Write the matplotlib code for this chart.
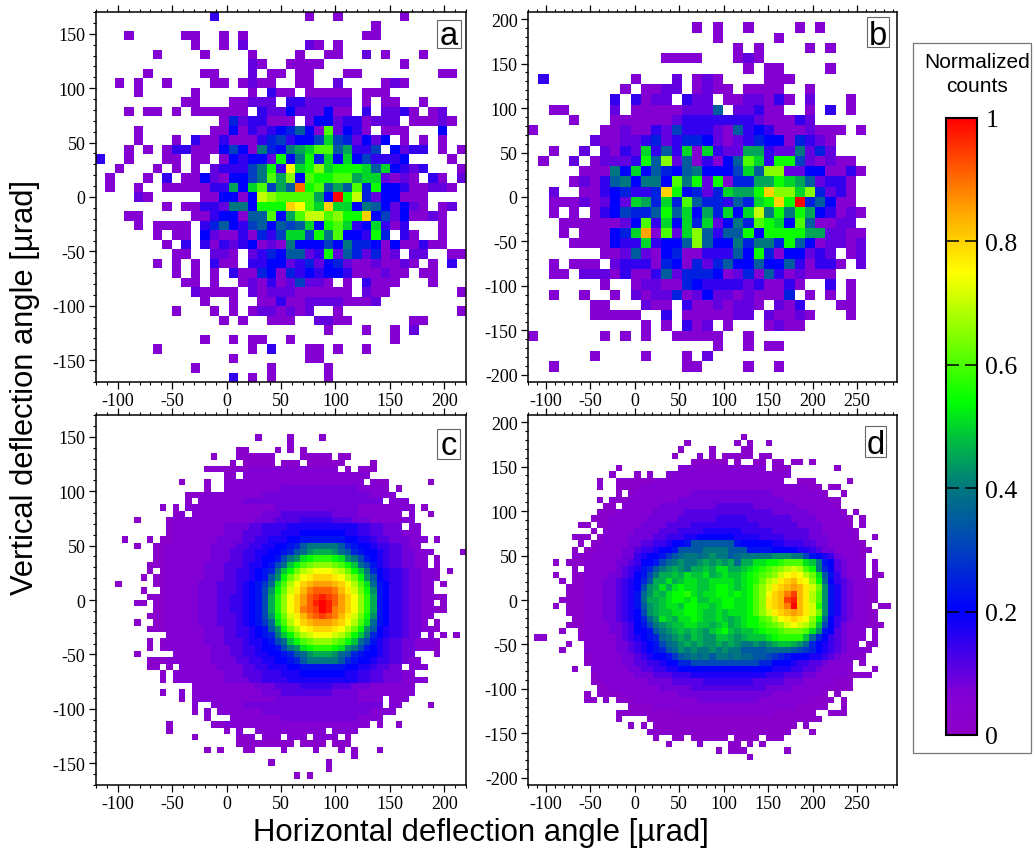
import numpy as np
import matplotlib
matplotlib.use("Agg")
import matplotlib.pyplot as plt
from matplotlib.colors import LinearSegmentedColormap
from matplotlib.cm import ScalarMappable
from matplotlib.colors import Normalize
from matplotlib.patches import Rectangle
from matplotlib.ticker import MultipleLocator

plt.rcParams['font.family'] = ['Liberation Serif', 'DejaVu Serif']
plt.rcParams['axes.unicode_minus'] = False

# Cell readings. Token "s:chars" = values from column s, "a-b:c" = run, base 36 codes.
a_rows = [
"12:3 22:1 25:1 32:1","29:1","3:1 9:11 13:1 15:1 28:11","10:1 13:1 15:2 22:21 25:1",
"6:1 11:1 16:1 21:1 24:11 28:2 30:1 34:1","16:21 20:1111 32:1",
"5:1 11:11 16:2 18:11 21:11 26:11 36:11","2:1 4:1 7:1 12:11 15:1211 21:11 25:2 30:121",
"4:1 10:1 16:1 18:3 19:11 22:11111 28:111",
"9:11 14:11 16:222 20:33 22:22222 28:1 30:11 34:1",
"3:1 5:11 8:1 10:111111 17:3 18:22 20:4 21:222 24:4 25:11 28:3 30:223 33:1 35:12",
"13:1 14:5 15:2 16:33 18:111 22:2 23:44 25:233 28:1 29:222 33:11 35:121",
"4:1 12:11 14:4 15:1 16:3 17:2 18:34 20:57 22:4 23:1 24:c 25:2 26:43 28:1 30:11 32:1 36:4",
"4:1 8:1 10:3 11:11 13:3 14:1 15:1 16:1 17:3 18:56 20:3 21:44 23:6 24:a 25:65 27:2 28:4 29:2 30:4 32:1 34:1 36:1",
"3:1 5:1 7:133 10:111 13:464 16:1 17:8 18:54 20:89a 23:cc 25:79 27:33 29:6 31:42 33:33 36:1 38:1",
"0:3 3:1 7:11 10:11 13:1 14:43 16:44 18:2 19:b 20:4 21:8 22:b 23:5 24:a 25:4 26:a 27:4 28:6 29:333 32:4 37:1",
"2:1 6:1 8:1 10:1 12:2 13:333 16:68 18:b 19:3 20:f 21:a 22:b 23:d 24:a 25:bbb 28:a 29:7 30:a 31:4 32:32 34:3 38:1",
"1:1 5:1 7:3 9:11 11:4 12:21 14:44 16:68 18:c 19:9 20:d 21:4 22:c 23:bb 25:cc 27:9 28:aa 30:2 31:1 32:2 33:1 35:3 36:1 38:2",
"1:1 4:1 7:11111 12:33 14:9 15:4 16:a 17:c 18:6 19:9 20:7 21:i 22:b 23:c 24:7 25:9 26:7 27:c 28:5 29:b 30:44 32:3 33:11 35:22 37:1",
"4:21 11:11 13:44 15:1 16:4 17:e 18:d 19:cccc 23:9 24:4 25:k 26:b 27:e 28:5 29:2 30:44 32:111",
"7:1 9:11 11:33 13:2 14:88 16:4 17:bbb 20:g 21:f 22:c 23:a 24:g 25:aa 27:4 28:87 30:4 31:2 32:4 33:21 36:12",
"3:11 10:11 12:3 13:44 15:1 16:77 18:c 19:4 20:9 21:c 22:ee 24:c 25:d 26:bb 28:g 29:4 30:6 31:2 32:4 33:11 35:21",
"4:1 6:1111 11:357 14:4 15:3 16:67 18:4 19:767 22:a 23:4 24:bc 26:a 27:34 29:a 30:3 31:1 32:3 36:1",
"6:1 8:11 11:4 12:211 15:3 16:1 17:53 19:6 20:aa 22:6 23:b 24:8 25:c 26:44 28:3 29:b 30:5 32:3 33:1 36:1",
"7:1 9:3 11:3 12:1 13:323 16:4 17:121 20:8 21:444 24:6 25:4 26:8 27:55 29:4 30:1 31:4 32:11 34:3 35:11",
"8:11 12:221 16:2 17:3 18:54 20:77 22:2 23:3 24:b 25:2 26:75 28:2 29:5 30:12 33:22 37:11",
"6:1 8:1 10:1 12:311 16:33 18:44 20:23 22:5 23:2 24:45 26:2 27:11 29:2 30:11 32:21 35:1 37:3",
"8:1 10:1 12:1 14:311 17:54 19:1 20:53 22:4 23:3 24:44 26:3 27:111 30:2 31:11 34:11",
"9:11 12:1 15:121 18:31 20:26 22:22 24:1 26:1 28:3 29:111 35:1",
"10:21111 16:21 18:222 21:111111 28:211 38:1",
"11:1 14:1 17:11 19:3 20:11 22:2222 26:111 29:2",
"8:1 12:1 14:1 16:122 19:1212 25:1 38:1",
"13:1 15:1 18:111 23:22 25:11 33:11",
"24:1 28:1 31:1 33:2",
"11:1 14:1 16:11 20:1 31:1",
"6:1 16:1 18:3 22:11 25:1 28:1",
"14:1 22:11",
"10:1 18:1 24:1",
"14:3 16:1 18:1 24:1",
]

b_rows = [
"","16:1 18:1 21:1 26:1 28:1","18:1 24:1","20:1 22:1 27:1 29:1","13:1111 20:121",
"21:1 23:11 29:1","1:3 10:1 14:2 16:12 18:1 23:111",
"9:1 11:112 14:2 16:12 18:11 21:11 23:11 27:1",
"8:3 10:3 11:1 12:22 15:3 16:22 19:11 21:22 23:1 24:3 25:1 27:2 31:1",
"2:11 8:2 10:111 13:1 14:12 16:22 18:7 20:22 22:3 23:11 27:1 29:3 31:1",
"4:1 8:111111 14:2 15:33333 20:33 22:211 25:1 26:3 27:2",
"0:1 7:11 9:2 10:11 12:3 13:2 14:6 15:333 18:2 19:1 20:7 21:3 22:4 23:3 24:111 27:2 28:111 32:1",
"6:2 7:11 9:22 11:3 12:5 13:2 14:3 15:554 18:2 19:12 21:3 22:5 23:44 25:1 26:5 27:3 28:2 29:1",
"2:1 5:2 7:21 9:3 10:2 11:a 12:3 13:7 14:3 15:a 16:1 17:a 18:3 19:2 20:2 21:99 23:3 24:22 26:8 27:2 28:5 29:2",
"1:1 4:2 6:1 7:222 10:3 11:b 12:7 13:d 14:2 15:7 16:1 17:3 18:1 19:4 20:7 21:c 22:a 23:3 24:bb 26:6 27:2 28:1 29:2 30:11",
"5:1 6:11 8:8 9:4 10:a 11:4 12:7 13:5 14:4 15:7 16:8 17:444 20:6 21:a 22:7 23:dd 25:22 27:44 29:11 31:3 32:1",
"4:1 5:2 6:1 7:3 8:78 10:4 11:88 13:4 14:c 15:8 16:b 17:2 18:b 19:1 20:55 22:99 24:b 25:a 26:9 27:7 28:2 29:33 31:1",
"2:2 5:11 7:3 8:45 10:33 12:5 13:g 14:b 15:45 17:2 18:5 19:a 20:99 22:b 23:g 24:dd 26:a 27:d 28:5 29:2 30:3 31:1",
"2:111 5:2 6:1 7:2 8:4 9:2 10:a 11:9 12:5 13:a 14:5 15:c 16:7 17:55 19:3 20:7 21:5 22:a 23:b 24:g 25:b 26:k 27:5 28:7 29:4 30:11",
"2:1 4:1 6:1 7:3 8:4 9:6 10:55 12:7 13:b 14:7 15:a 16:4 17:9 18:5 19:a 20:4 21:a 22:e 23:8 24:b 25:8 26:b 27:9 28:4 29:3 30:1 31:2 32:1",
"3:111 6:111 9:2 10:4 11:c 12:3 13:a 14:4 15:a 16:5 17:a 18:2 19:4 20:8 21:5 22:c 23:b 24:a 25:4 26:c 27:7 28:112 31:2",
"3:1 5:1 6:11 8:45 10:a 11:h 12:1 13:c 14:2 15:a 16:d 17:7 18:3 19:77 21:b 22:4 23:bbb 26:b 27:9 28:9 29:22 31:11",
"4:1111 8:4 9:33 11:a 12:3 13:44 15:7 16:d 17:7 18:44 20:8 21:5 22:88 24:5 25:b 26:7 27:4 28:1 29:22 31:1 32:2",
"7:11 9:2 10:7 11:2 12:1 13:45 15:11 17:333 20:7 21:4 22:b 23:5 24:1 25:44 27:2 28:3 29:2 31:12",
"2:1 4:111 8:2 9:333 12:1 13:54 15:1 16:5 17:2 18:5 19:7 20:44 22:7 23:44 25:7 26:3 27:1 28:33 30:1 32:2",
"2:11 5:222 8:1 9:3 10:11 12:3 13:7 14:2 15:555 18:4 19:1 20:2 21:5 22:1 23:7 24:3 25:1 26:2 27:111",
"7:1 10:1 11:22 13:11 15:543 18:3332 22:3 23:11 25:3 26:1 29:3 31:1",
"2:1 5:1 8:1 10:2 11:1 12:22 14:5 15:1 16:2 17:4 18:22 20:1 21:2 22:111 25:5 27:1 29:1 31:1",
"6:11 11:2 12:11 15:3 16:11 18:2 19:1 20:22 22:1 24:2 25:1 26:3 30:11",
"6:11111 13:3 15:1111 19:1 20:22 23:2 24:11 26:2 27:1 31:1",
"11:1 13:1 15:3 16:12 19:1 23:12 25:11",
"0:1 7:1 9:1 11:1 14:11111 21:1",
"18:1 21:1 23:11",
"6:1 11:1 15:1 17:2",
"2:1 15:11 21:1 24:1",
"",
]

c_occ = [
"","","","25 30 35","30","22-23 28 30 32","18 22-27 32-36 38-39","21 23-27 29-31 33-38 43",
"17-37 39 41-43","20-21 23-42","13 17 20-41 43-45 52","17 20-45 47","14-46","14 16-44 46-48",
"10 12 14-49 51","12-13 15-47 49 52","6 11-49","11-47 49-50","11-50","4 8 10-51 53","6 9-50",
"9-52 57","9-51 53","8-51 53","8 10-53 55","7 9-53","3 9-52 54","7 10-52","8-54","6-7 9-52 54",
"9-54","8-52","6 9-51 53","8-53","11-50 52 54 56","8 10-53","8 10-53","6 12-49 53","8-50",
"8-9 11 13-47 49-51","10 12-49","10 12-51","15-49","10 13 15-49","13 15-44 46-48",
"15 18-44 46-47 52","15 17 19-46","17 21-44","11 18-42 44 47","11 20 22 25-35 37-40",
"15 22-24 26-28 30-32 34-37 39","22-30 32-35 37-39","17 19 23-24 29 34 38 40 44","40","27 36","36","31 33","",
]

c_val = [
"","","","","","","","",
"24-37:2","22-42:2","20-43:2","18-44:2 29-40:3","16-47:2 26-42:3",
"15-48:2 23-44:3",
"14-49:2 24:22223333333333333222222",
"13-50:2 24:22333444444443333222222",
"12-50:2 24:23334444555554443332222",
"12-51:2 20-47:3 24:44555566666666666554433",
"12-51:2 20-47:3 23:4 24:44555666777777766554433",
"12-51:2 19-48:3 23:4 24:45566677888888877665443",
"11-52:2 18-48:3 22-47:4 24:55667789ceeeeec98776554",
"11-52:2 18-49:3 21-47:4 23:5 24:5667789cdfgggfdc9877654",
"11-52:2 18-49:3 21-47:4 23:5 24:56778befijkkkjifeb87654",
"11-52:2 17-49:3 20-47:4 23:5 24:6678bdhjlmnnnmljhdb8654",
"11-52:2 17-50:3 20-48:4 22-47:5 24:6789ehjmopqqqpomjhe9765",
"11-52:2 17-50:3 20-48:4 22-47:5 24:678cfjmoqrsssrqomjfc765",
"11-52:2 16-50:3 19-48:4 22-47:5 23:6 24:78adiloqstuuutsqolid875",
"11-52:2 16-50:3 19-48:4 22-47:5 23:6 24:78bfjmprtvwwwvtrpmjf875",
"11-52:2 16-50:3 19-48:4 21-47:5 23:6 24:78bgknqsuwxyxwusqnkg875",
"11-52:2 16-50:3 19-48:4 21-47:5 23:6 24:78bgknqsuwyzywusqnkg875",
"11-52:2 16-50:3 19-48:4 21-47:5 23:6 24:78bgknqsvwxzyvusqnkg875",
"11-52:2 16-50:3 19-48:4 22-47:5 23:6 24:78bfjmprtvwxwvtrpmjf875",
"11-52:2 16-50:3 19-48:4 22-47:5 23:6 24:78adiloqstuuutsqolid875",
"11-52:2 17-50:3 20-48:4 22-47:5 24:678cfjmoqrsssrqomjfc765",
"11-52:2 17-50:3 20-48:4 22-47:5 24:6789ehjmopqqqpomjhe9765",
"11-52:2 17-49:3 20-47:4 23:5 24:6678bdhjlmnnnmljhdb8654",
"11-52:2 18-49:3 21-47:4 23:5 24:56778befijkkkjifeb87654",
"11-52:2 18-49:3 21-47:4 23:5 24:5667789cdfgggfdc9877654",
"11-52:2 18-48:3 22-47:4 24:55667789ceeeeec98776554",
"12-51:2 19-48:3 23:4 24:45566677888888877665443",
"12-51:2 20-47:3 23:4 24:44555666777777766554433",
"12-51:2 20-47:3 24:44555566666666666554433",
"12-50:2 24:23334444555554443332222",
"13-50:2 24:22333444444443333222222",
"14-49:2 24:22223333333333333222222",
"15-48:2 23-44:3","16-47:2 26-42:3","18-44:2 29-40:3","20-43:2",
"22-42:2","24-37:2",
]

d_occ = [
"","","","34","25 33 35 38","24 29 34-35","23 27 29 31-35 37-38","26-31 33 36-37 39-40 42-43 45",
"14 24-37 39-41 49","13 17 19 22-41","11 14-40 43-45 51","11 14-46 48-49","14 16-47 50","11 13-49",
"12-13 15-49","11-50 52","10-51 53","8-9 11-51 53","10 12-52","7-9 11-52 55","8 10-53","7 9-54",
"7-53","4 6-53 55","7 9-53 55","4 7-53 55-56","5 7-55","6-55","6-55","5-55","4 6-54 56-57","6-55",
"7-55","6-56","5 8-53 55","1-2 8-53 55","6 9-52 54-55","5 9-54","9-53","9-51 53","7 10-51 55","10-54",
"10-51","11-51","9 11-47 49","9-10 12 14-48 50","16-47 50","14-45 48-50","14 19-46","16 18 20-42 44",
"19-41 45","20 23-24 26-31 33-36 38-40","22 27 32-33 35 37","30 32-34 41","35","","","","",
]

d_val = [
"","","","","","","","","24-37:2","22-41:2","20-40:2","18-44:2","17-46:2 26-38:3","16-47:2 24-40:3",
"15-48:2 21-42:3 30-35:4","14-49:2 20-44:3 25-38:4","13-50:2 19-45:3 24-41:4 30-34:5",
"13-50:2 18-46:3 22-42:4 26-36:5","12-51:2 17-46:3 21-44:4 24-38:5 28-33:6",
"12-51:2 16-47:3 20-44:4 22-40:5 25-36:6 27-32:7",
"12-52:2 16-47:3 18-45:4 20-43:5 22-40:6 23-38:7 25-33:8 26-32:c",
"11-52:2 15-48:3 17-46:4 18-45:5 20-44:6 21-42:7 23-38:8 24-34:c 28-31:e",
"10-52:2 15-49:3 17-48:4 17:56778acdeedefeecd 34:eeeeefffeeb8765",
"9-53:2 14-50:3 16-49:4 17:5778bdefeefgfgfgd 34:ggiijjklllihe87",
"9-53:2 14-50:3 15-49:4 16:5 17:689cefgfegghgiigg 34:hijklmnopolje97 49:4",
"9-53:2 13-50:3 15-49:4 16:5 17:78begghgihhighihh 34:ijklmnpqrqomic8 49:5",
"9-53:2 12-51:3 14-50:4 15:56 17:79cggighiihhiiiih 34:ijkmoprstrqnjd7 49:5",
"9-53:2 12-51:3 14-50:4 15:56 17:7bfgigijiihhijjih 34:ijlnprstutrpmf8 49:6",
"9-53:2 12-51:3 14-50:4 15:56 17:8dfhgijjkihiijjij 34:ijlnqstvxtrolf8 49:6",
"9-53:2 12-51:3 14-50:4 15:56 17:8dgghijjijhhiijji 34:ijlnrstxytrolf8 49:6",
"9-53:2 12-51:3 14-50:4 15:56 17:8cfghiihjjiihijji 34:ijlnrstvztrpkf8 49:6",
"9-53:2 12-51:3 14-50:4 15:56 17:7bfghhiijjihhihii 34:ijlnprstutrpmf8 49:6",
"9-53:2 12-51:3 14-50:4 15:56 17:79dfihgiijihhihgh 34:ijjlmoqrsrqnjd7 49:5",
"9-53:2 13-50:3 15-49:4 16:5 17:78befghhiihhghigh 34:ijjklmnpqpomhb7 49:5",
"9-53:2 13-50:3 15-49:4 16:5 17:778cefghghgfhijhg 34:hhijkklmmmlif87 49:4",
"9-53:2 14-50:3 15-49:4 16:5 17:6789defgfhgffhhgf 34:ghhhijkkkkhd975",
"9-53:2 14-50:3 16-49:4 17:5678bdefgfgffgfgf 34:eefefghhgfd9765",
"9-53:2 14-50:3 16-49:4 17:56789cdfefeefefee 34:ccccddddcba9765",
"10-52:2 15-49:3 17-48:4 17:456778acdedeceede 34:ddccba987776654",
"10-51:2 15-47:3 17-46:4 19-44:5 21-42:6 22-41:7 24-38:9 26-36:b",
"10-50:2 16-46:3 18-45:4 20-43:5 22-41:6 24-38:7",
"11-50:2 17-45:3 20-43:4 23-40:5 26-37:6",
"12-48:2 19-43:3 23-40:4 28-35:5",
"13-47:2 21-41:3 26-37:4",
"15-46:2 24-38:3","17-44:2 27-36:3","20-42:2","24-38:2",
]

x_major_ab = [-100, -50, 0, 50, 100, 150, 200]
x_major_bd = [-100, -50, 0, 50, 100, 150, 200, 250]
y_major_ac = [-150, -100, -50, 0, 50, 100, 150]
y_major_bd = [-200, -150, -100, -50, 0, 50, 100, 150, 200]
cbar_ticks = [0, 0.2, 0.4, 0.6, 0.8, 1]
cbar_labels = ['0', '0.2', '0.4', '0.6', '0.8', '1']


def parse(rows, n):
    g = np.full((n, n), np.nan)
    for r, row in enumerate(rows[:n]):
        for tok in row.split():
            if ':' in tok:
                head, chars = tok.split(':')
            else:
                head, chars = tok, '1'
            if '-' in head:
                s, e = head.split('-')
                g[r, int(s):int(e) + 1] = int(chars, 36)
            else:
                s = int(head)
                for i, ch in enumerate(chars):
                    if s + i < n:
                        g[r, s + i] = int(ch, 36)
    return g


def with_detail(occ, val, n):
    base = parse(occ, n)
    det = parse(val, n)
    return np.where(np.isnan(base), np.nan, np.where(np.isnan(det), base, det)) / 35.0


A = parse(a_rows, 39) / 20.0
B = parse(b_rows, 36) / 20.0
C = with_detail(c_occ, c_val, 58)
D = with_detail(d_occ, d_val, 59)

cmap = LinearSegmentedColormap.from_list('rb', [
    (0.00, (0.56, 0.00, 0.78)),
    (0.07, (0.50, 0.00, 0.84)),
    (0.20, (0.00, 0.00, 1.00)),
    (0.30, (0.00, 0.25, 0.75)),
    (0.40, (0.00, 0.47, 0.50)),
    (0.48, (0.00, 0.75, 0.25)),
    (0.54, (0.00, 1.00, 0.00)),
    (0.75, (1.00, 1.00, 0.00)),
    (0.85, (1.00, 0.65, 0.00)),
    (1.00, (1.00, 0.00, 0.00)),
], N=512)
cmap.set_bad('white')

W, H = 1035, 854
fig = plt.figure(figsize=(W / 100, H / 100), dpi=100)


def add_axes(x0, x1, y0, y1):
    return fig.add_axes([x0 / W, 1 - y1 / H, (x1 - x0) / W, (y1 - y0) / H])


def add_tag(tag, x0, x1, y0, y1, base):
    fig.add_artist(Rectangle((x0 / W, 1 - y1 / H), (x1 - x0) / W, (y1 - y0) / H,
                             transform=fig.transFigure, fc='white', ec='#666666', lw=0.8, zorder=5))
    fig.text((x0 + x1) / 2 / W, 1 - base / H, tag, family='Liberation Sans', fontsize=23.5,
             ha='center', va='baseline', zorder=6)


panels = [
    (A, (96, 466, 13, 383), (-120, 220), (-170, 170), x_major_ab, y_major_ac, ('a', 437, 461, 21, 49, 45)),
    (B, (528, 897, 13, 383), (-120, 295), (-208, 208), x_major_bd, y_major_bd, ('b', 867, 889, 18, 48, 45)),
    (C, (96, 466, 416, 786), (-120, 220), (-170, 170), x_major_ab, y_major_ac, ('c', 437, 460, 430, 460, 455)),
    (D, (528, 897, 416, 786), (-120, 295), (-208, 208), x_major_bd, y_major_bd, ('d', 865, 886, 427, 458, 454.5)),
]
for data, box, xl, yl, xt, yt, tag in panels:
    ax = add_axes(*box)
    n = data.shape[0]
    xe = np.linspace(xl[0], xl[1], n + 1)
    ye = np.linspace(yl[1], yl[0], n + 1)
    ax.pcolormesh(xe, ye, np.ma.masked_invalid(data), cmap=cmap, vmin=0, vmax=1, shading='flat')
    ax.set_xlim(*xl)
    ax.set_ylim(*yl)
    ax.set_xticks(xt)
    ax.set_yticks(yt)
    ax.xaxis.set_minor_locator(MultipleLocator(10))
    ax.yaxis.set_minor_locator(MultipleLocator(10))
    ax.tick_params(which='major', length=5, width=0.9, labelsize=13, top=True, pad=2.5)
    ax.tick_params(which='minor', length=2.5, width=0.8, top=True)
    ax.tick_params(axis='x', which='both', labeltop=False)
    for s in ax.spines.values():
        s.set_linewidth(1.1)
    add_tag(*tag)

fig.text(481 / W, 1 - 833 / H, 'Horizontal deflection angle [µrad]', family='Liberation Sans',
         fontsize=22.4, ha='center', va='center')
fig.text(25 / W, 1 - 387 / H, 'Vertical deflection angle [µrad]', family='Liberation Sans',
         fontsize=22.2, rotation=90, ha='center', va='center')

fig.add_artist(Rectangle((913 / W, 1 - 754 / H), 118 / W, 710 / H, transform=fig.transFigure,
                         fc='white', ec='#777777', lw=0.9, zorder=-1))
fig.text(977 / W, 1 - 62 / H, 'Normalized', family='Liberation Sans', fontsize=15,
         ha='center', va='center')
fig.text(977 / W, 1 - 87 / H, 'counts', family='Liberation Sans', fontsize=15,
         ha='center', va='center')

cax = add_axes(946, 977, 119, 736)
cb = fig.colorbar(ScalarMappable(Normalize(0, 1), cmap), cax=cax)
cb.set_ticks(cbar_ticks, labels=cbar_labels)
cb.outline.set_linewidth(1.5)
cax.tick_params(axis='y', direction='in', left=True, right=True, length=9, width=1.1,
                labelsize=18.5, pad=6)

fig.savefig('out.png', dpi=100)
